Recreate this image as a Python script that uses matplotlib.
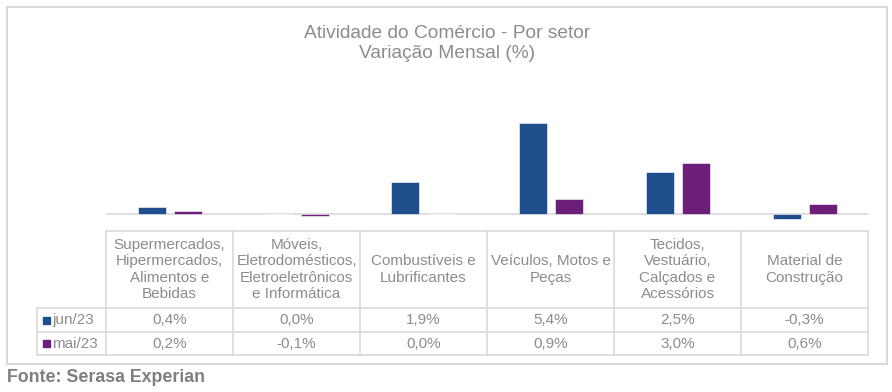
import numpy as np
import matplotlib.pyplot as plt
from matplotlib.lines import Line2D
from matplotlib.patches import Rectangle

plt.rcParams['font.family'] = ['Liberation Sans', 'DejaVu Sans']

categories = [
    "Supermercados,\nHipermercados,\nAlimentos e\nBebidas",
    "Móveis,\nEletrodomésticos,\nEletroeletrônicos\ne Informática",
    "Combustíveis e\nLubrificantes",
    "Veículos, Motos e\nPeças",
    "Tecidos,\nVestuário,\nCalçados e\nAcessórios",
    "Material de\nConstrução",
]
series_names = ["jun/23", "mai/23"]
jun23 = [0.4, 0.0, 1.9, 5.4, 2.5, -0.3]
mai23 = [0.2, -0.1, 0.0, 0.9, 3.0, 0.6]
colors = ["#1f4e8c", "#6b1f78"]

W, H = 892, 392
fig = plt.figure(figsize=(W / 100, H / 100), dpi=100)

def fx(x):
    return x / W

def fy(y):
    return 1 - y / H

def hline(x0, x1, y, c="#d9d9d9", lw=1.2):
    fig.add_artist(Line2D([fx(x0), fx(x1)], [fy(y), fy(y)], color=c, lw=lw))

def vline(x, y0, y1, c="#d9d9d9", lw=1.2):
    fig.add_artist(Line2D([fx(x), fx(x)], [fy(y0), fy(y1)], color=c, lw=lw))

# outer chart border
fig.add_artist(Rectangle((fx(7), fy(364)), fx(880), 357 / H, transform=fig.transFigure,
                         fill=False, ec="#d9d9d9", lw=1.5))

# title
fig.text(fx(447), fy(33), "Atividade do Comércio - Por setor", ha="center", va="center",
         color="#8c8c8c", fontsize=13.8)
fig.text(fx(447), fy(54), "Variação Mensal (%)", ha="center", va="center",
         color="#8c8c8c", fontsize=13.8)

# bars
left, right = 106, 868
top, bottom, base = 100, 228, 214
scale = 91 / 5.4  # px per unit
ax = fig.add_axes([fx(left), fy(bottom), (right - left) / W, (bottom - top) / H])
ax.set_xlim(0, 6)
ax.set_ylim(-(bottom - base) / scale, (base - top) / scale)
x = np.arange(len(categories)) + 0.5
colw = (right - left) / 6
off = 18 / colw
bw = 28 / colw
ax.bar(x - off, jun23, bw, color=colors[0], edgecolor="white", linewidth=0.4)
ax.bar(x + off, mai23, bw, color=colors[1], edgecolor="white", linewidth=0.4)
ax.axhline(0, color="#d9d9d9", lw=1.2, zorder=0)
ax.axis("off")

# data table
t_top, h_bot, r1_bot, r2_bot = 231, 308, 332, 355
leg_left = 37
cols = [left + i * colw for i in range(7)]
hline(left, right, t_top)
hline(leg_left, right, h_bot)
hline(leg_left, right, r1_bot)
hline(leg_left, right, r2_bot)
for c in cols:
    vline(c, t_top, r2_bot)
vline(leg_left, h_bot, r2_bot)

tc = "#8c8c8c"
fs = 11
for i, cat in enumerate(categories):
    cx = (cols[i] + cols[i + 1]) / 2
    fig.text(fx(cx), fy((t_top + h_bot) / 2), cat, ha="center", va="center",
             color=tc, fontsize=fs, linespacing=1.2)
    for vals, (y0, y1) in [(jun23, (h_bot, r1_bot)), (mai23, (r1_bot, r2_bot))]:
        s = f"{vals[i]:.1f}%".replace(".", ",")
        fig.text(fx(cx), fy((y0 + y1) / 2), s, ha="center", va="center",
                 color=tc, fontsize=fs)

for name, col, (y0, y1) in zip(series_names, colors, [(h_bot, r1_bot), (r1_bot, r2_bot)]):
    yc = (y0 + y1) / 2
    fig.add_artist(Rectangle((fx(43), fy(yc + 3.5)), 7 / W, 7 / H, transform=fig.transFigure,
                             color=col))
    fig.text(fx(52), fy(yc), name, ha="left", va="center", color=tc, fontsize=fs)

fig.text(fx(7), fy(377), "Fonte: Serasa Experian", ha="left", va="center",
         color="#7f7f7f", fontsize=12.8, fontweight="bold")

fig.savefig("out.png", dpi=100)
